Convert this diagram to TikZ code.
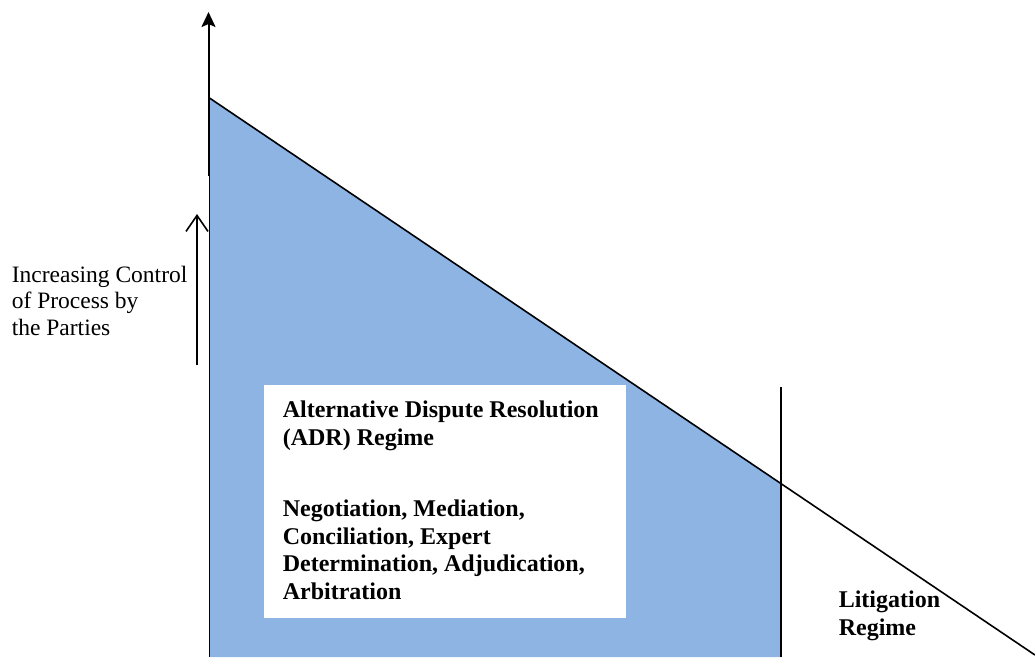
\documentclass[tikz,border=0pt]{standalone}
\usepackage{fontspec}
\setmainfont{Liberation Serif}
\usetikzlibrary{arrows.meta}
\definecolor{adrblue}{RGB}{142,180,227}
\begin{document}
\begin{tikzpicture}[x=1pt,y=-1pt,line width=1.6pt,
  txt/.style={font=\fontsize{23.5}{26.5}\selectfont,inner sep=0pt,align=left,anchor=base west},
  btxt/.style={txt,font=\fontsize{24}{27.5}\selectfont\bfseries}]
\useasboundingbox (0,0) rectangle (1035,657);
\coordinate (top) at (209.5,98);
\coordinate (bl) at (209.5,657);
\coordinate (br) at (781,657);
\coordinate (mid) at (781,484);
\coordinate (lend) at (1035,655);
\coordinate (vtop) at (781,387);
\fill[adrblue] (top) -- (mid) -- (br) -- (bl) -- cycle;
\draw (bl) -- (top);
\draw (top) -- (lend);
\draw (br) -- (vtop);
\coordinate (a1) at (208.5,176);
\coordinate (a2) at (208.5,12);
\draw[line width=2pt,-{Stealth[length=15pt,width=14pt,inset=3pt]}] (a1) -- (a2);
\coordinate (s1) at (197,365);
\coordinate (s2) at (197,214);
\draw[-{Straight Barb[length=16pt,width=22pt]}] (s1) -- (s2);
\node[fill=white,inner sep=0pt,minimum width=362pt,minimum height=233pt,anchor=north west] (box) at (263,384) {};
\node[txt] (ctl) at (11,335) {Increasing Control\\of Process by\\the Parties};
\node[btxt] (adr) at (282,445) {Alternative Dispute Resolution\\(ADR) Regime};
\node[btxt] (meth) at (282,599) {Negotiation, Mediation,\\Conciliation, Expert\\Determination, Adjudication,\\Arbitration};
\node[btxt] (lit) at (838,635) {Litigation\\Regime};
\end{tikzpicture}
\end{document}
